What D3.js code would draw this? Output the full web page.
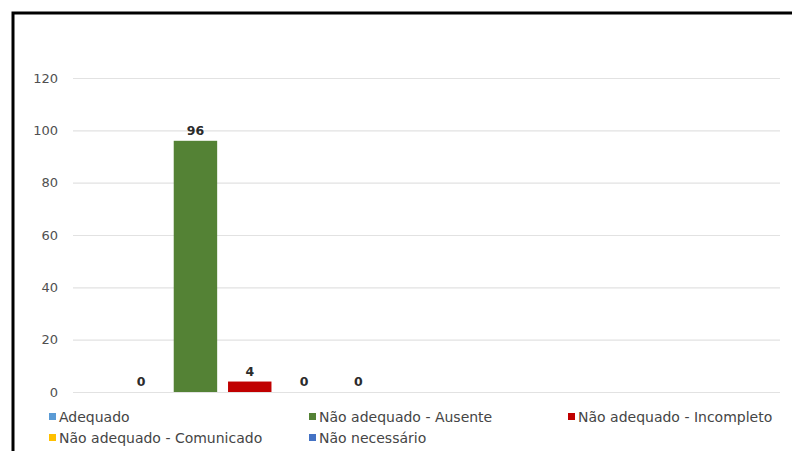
<!DOCTYPE html>
<html>
<head>
<meta charset="utf-8">
<script src="https://cdn.jsdelivr.net/npm/d3@7"></script>
<style>
  html, body { margin: 0; padding: 0; background: #fff; }
  svg { display: block; font-family: "DejaVu Sans", sans-serif; }
</style>
</head>
<body>
<svg id="chart" width="792" height="451"></svg>
<script>
// Two category slots; only the first one carries data
const categories = ["A", "B"];
const seriesNames = [
  "Adequado",
  "Não adequado - Ausente",
  "Não adequado - Incompleto",
  "Não adequado - Comunicado",
  "Não necessário"
];
const adequado = [0, null];
const ausente = [96, null];
const incompleto = [4, null];
const comunicado = [0, null];
const naoNecessario = [0, null];
const seriesColors = ["#5B9BD5", "#548235", "#C00000", "#FFC000", "#4472C4"];
const yTicks = [0, 20, 40, 60, 80, 100, 120];

const seriesValues = [adequado, ausente, incompleto, comunicado, naoNecessario];

const svg = d3.select("#chart");

// outer frame
svg.append("rect")
  .attr("x", 13).attr("y", 13)
  .attr("width", 900).attr("height", 600)
  .attr("fill", "#fff")
  .attr("stroke", "#000")
  .attr("stroke-width", 3);

const plot = { left: 73, right: 780, top: 78, bottom: 392 };

const y = d3.scaleLinear().domain([0, 120]).range([plot.bottom, plot.top]);
const x = d3.scaleBand().domain(categories).range([plot.left, plot.right]).padding(0);
const xs = d3.scaleBand().domain(d3.range(seriesNames.length))
  .range([0, x.bandwidth()]).paddingInner(0.2).paddingOuter(0.855);

// gridlines and value axis labels
const yAxis = d3.axisLeft(y).tickValues(yTicks).tickSize(-(plot.right - plot.left)).tickPadding(15);
const gy = svg.append("g").attr("transform", `translate(${plot.left},0)`).call(yAxis);
gy.select(".domain").remove();
gy.selectAll(".tick line").attr("stroke", "#e2e2e2").attr("stroke-width", 1.2);
gy.selectAll(".tick text")
  .attr("fill", "#505050")
  .style("font-size", "13px")
  .style("font-family", "DejaVu Sans, sans-serif");

// bars
const barData = [];
categories.forEach((c, ci) => {
  seriesValues.forEach((vals, si) => {
    if (vals[ci] !== null) barData.push({ c, si, v: vals[ci] });
  });
});

svg.append("g").selectAll("rect")
  .data(barData)
  .join("rect")
  .attr("x", d => x(d.c) + xs(d.si))
  .attr("width", xs.bandwidth())
  .attr("y", d => y(d.v))
  .attr("height", d => y(0) - y(d.v))
  .attr("fill", d => seriesColors[d.si]);

// value labels
svg.append("g").selectAll("text")
  .data(barData)
  .join("text")
  .attr("x", d => x(d.c) + xs(d.si) + xs.bandwidth() / 2)
  .attr("y", d => y(d.v) - 6)
  .attr("text-anchor", "middle")
  .attr("font-size", 12.5)
  .attr("font-weight", "bold")
  .attr("fill", "#2b2b2b")
  .text(d => d.v);

// legend
const legendPos = [
  { x: 49, y: 417 }, { x: 309, y: 417 }, { x: 568, y: 417 },
  { x: 49, y: 438 }, { x: 309, y: 438 }
];
const lg = svg.append("g").selectAll("g")
  .data(seriesNames)
  .join("g")
  .attr("transform", (d, i) => `translate(${legendPos[i].x},${legendPos[i].y})`);
lg.append("rect")
  .attr("x", 0).attr("y", -4)
  .attr("width", 7).attr("height", 7)
  .attr("fill", (d, i) => seriesColors[i]);
lg.append("text")
  .attr("x", 10).attr("y", 5)
  .attr("font-size", 14)
  .attr("fill", "#454545")
  .text(d => d);
</script>
</body>
</html>
